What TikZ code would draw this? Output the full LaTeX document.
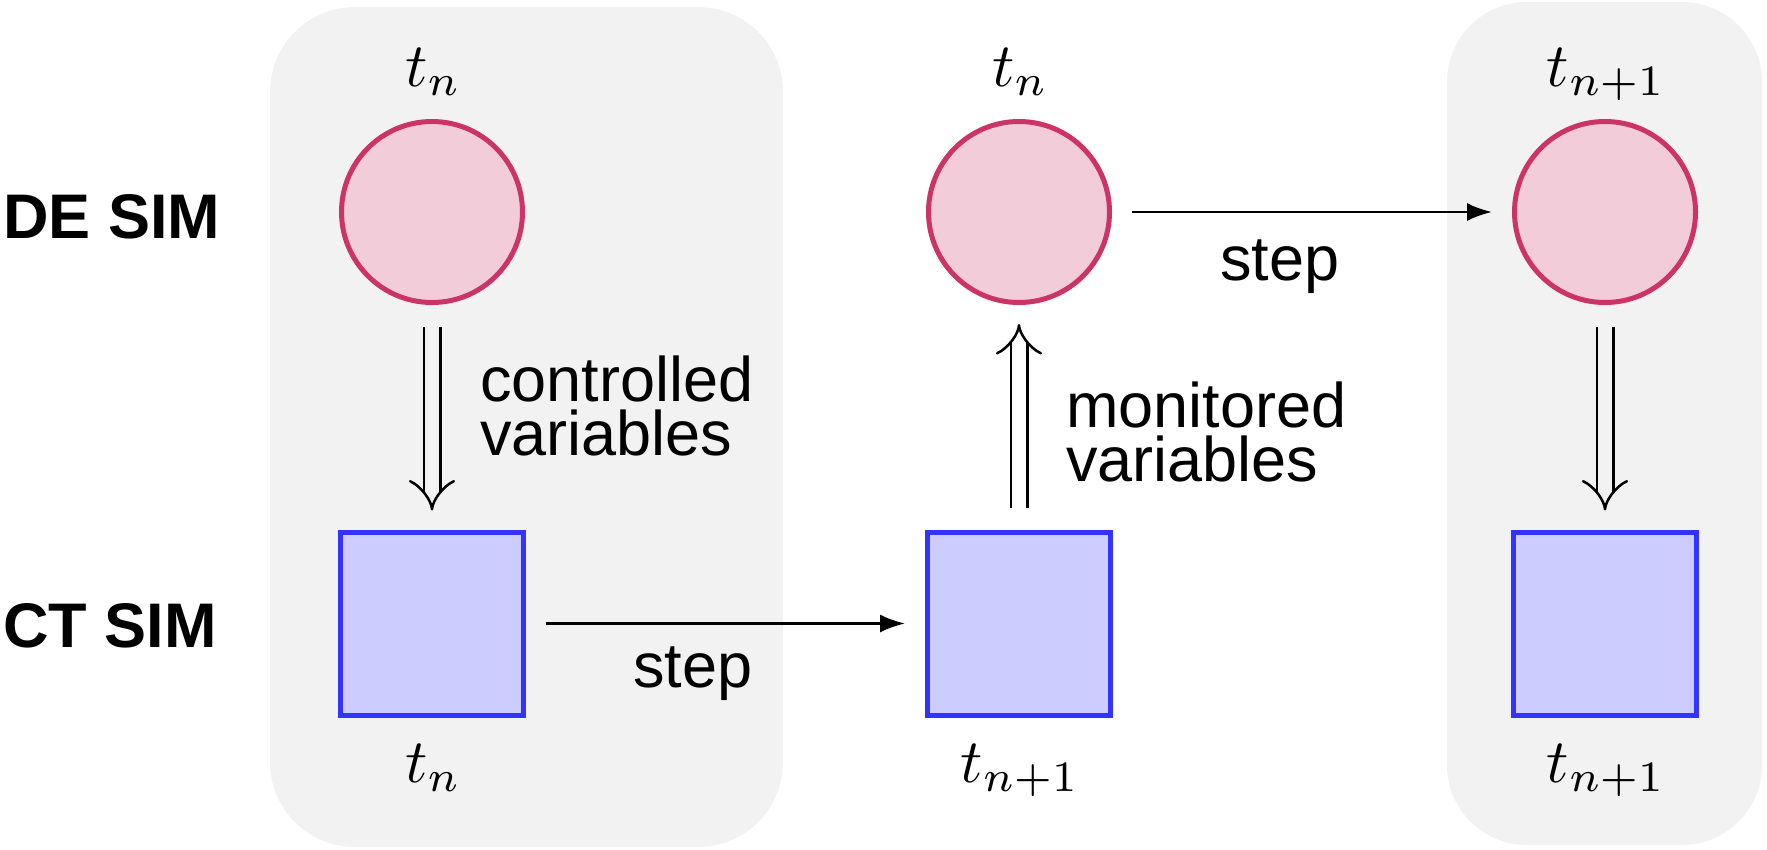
\RequirePackage{fix-cm}
\documentclass[tikz,border=0pt]{standalone}
\usepackage[no-math]{fontspec}
\setsansfont{Liberation Sans}
\usetikzlibrary{arrows.meta}
% heavier optical sizes for the large time stamps
\DeclareFontShape{OML}{cmm}{m}{it}{<-50> cmmi7 <50-> cmmi10}{}
\DeclareFontShape{OT1}{cmr}{m}{n}{<-50> cmr7 <50-> cmr10}{}

\definecolor{panelgray}{RGB}{242,242,242}
\definecolor{depink}{RGB}{242,204,217}
\definecolor{deborder}{RGB}{204,51,102}
\definecolor{ctblue}{RGB}{204,204,255}
\definecolor{ctborder}{RGB}{51,51,255}

\begin{document}
\begin{tikzpicture}[x=1pt,y=-1pt,
  panel/.style={fill=panelgray, rounded corners=#1},
  desim/.style={circle, draw=deborder, fill=depink, line width=5pt,
    minimum size=181pt, inner sep=0pt},
  ctsim/.style={rectangle, draw=ctborder, fill=ctblue, line width=5pt,
    minimum size=183pt, inner sep=0pt},
  lbl/.style={font={\sffamily\fontsize{63pt}{54pt}\selectfont}, inner sep=0pt},
  rowlbl/.style={font={\sffamily\bfseries\fontsize{63pt}{63pt}\selectfont},
    inner sep=0pt, anchor=base west},
  tlbl/.style={font={\fontsize{62pt}{62pt}\selectfont}, inner sep=0pt, anchor=base},
  stepedge/.style={line width=2.5pt, -{Latex[length=25pt,width=18pt]},
    shorten <=20pt, shorten >=20pt},
  varedge/.style={line width=2.5pt, double=#1, double distance=14pt,
    -{Implies}, shorten <=22pt, shorten >=19pt}
]
\useasboundingbox (0,0) rectangle (1767,849);

% shaded time-step panels
\fill[panel=85pt] (270,7) rectangle (783,847);
\fill[panel=80pt] (1447,2) rectangle (1762,845);

% row captions
\node[rowlbl] (de) at (3,238) {DE SIM};
\node[rowlbl] (ct) at (3,647) {CT SIM};

% discrete-event simulator states
\node[desim] (c1) at (432,212) {};
\node[desim] (c2) at (1019,212) {};
\node[desim] (c3) at (1605,212) {};

% continuous-time simulator states
\node[ctsim] (s1) at (432,623.5) {};
\node[ctsim] (s2) at (1019,623.5) {};
\node[ctsim] (s3) at (1605,623.5) {};

% time stamps
\node[tlbl] (tc1) at (432,86) {$t_n$};
\node[tlbl] (tc2) at (1019,86) {$t_n$};
\node[tlbl] (tc3) at (1605,86) {$t_{n+1}$};
\node[tlbl] (ts1) at (432,782) {$t_n$};
\node[tlbl] (ts2) at (1019,782) {$t_{n+1}$};
\node[tlbl] (ts3) at (1605,782) {$t_{n+1}$};

% variable exchange
\draw[varedge=panelgray] (c1) -- (s1);
\draw[varedge=white] (s2) -- (c2);
\draw[varedge=panelgray] (c3) -- (s3);
\node[lbl, anchor=base west, align=left] (cv) at (480,455) {controlled\\variables};
\node[lbl, anchor=base west, align=left] (mv) at (1066,481) {monitored\\variables};

% simulation steps
\draw[stepedge] (s1) -- (s2);
\draw[stepedge] (c2) -- (c3);
\node[lbl, anchor=base] (st1) at (693,687) {step};
\node[lbl, anchor=base] (st2) at (1280,280) {step};
\end{tikzpicture}
\end{document}
